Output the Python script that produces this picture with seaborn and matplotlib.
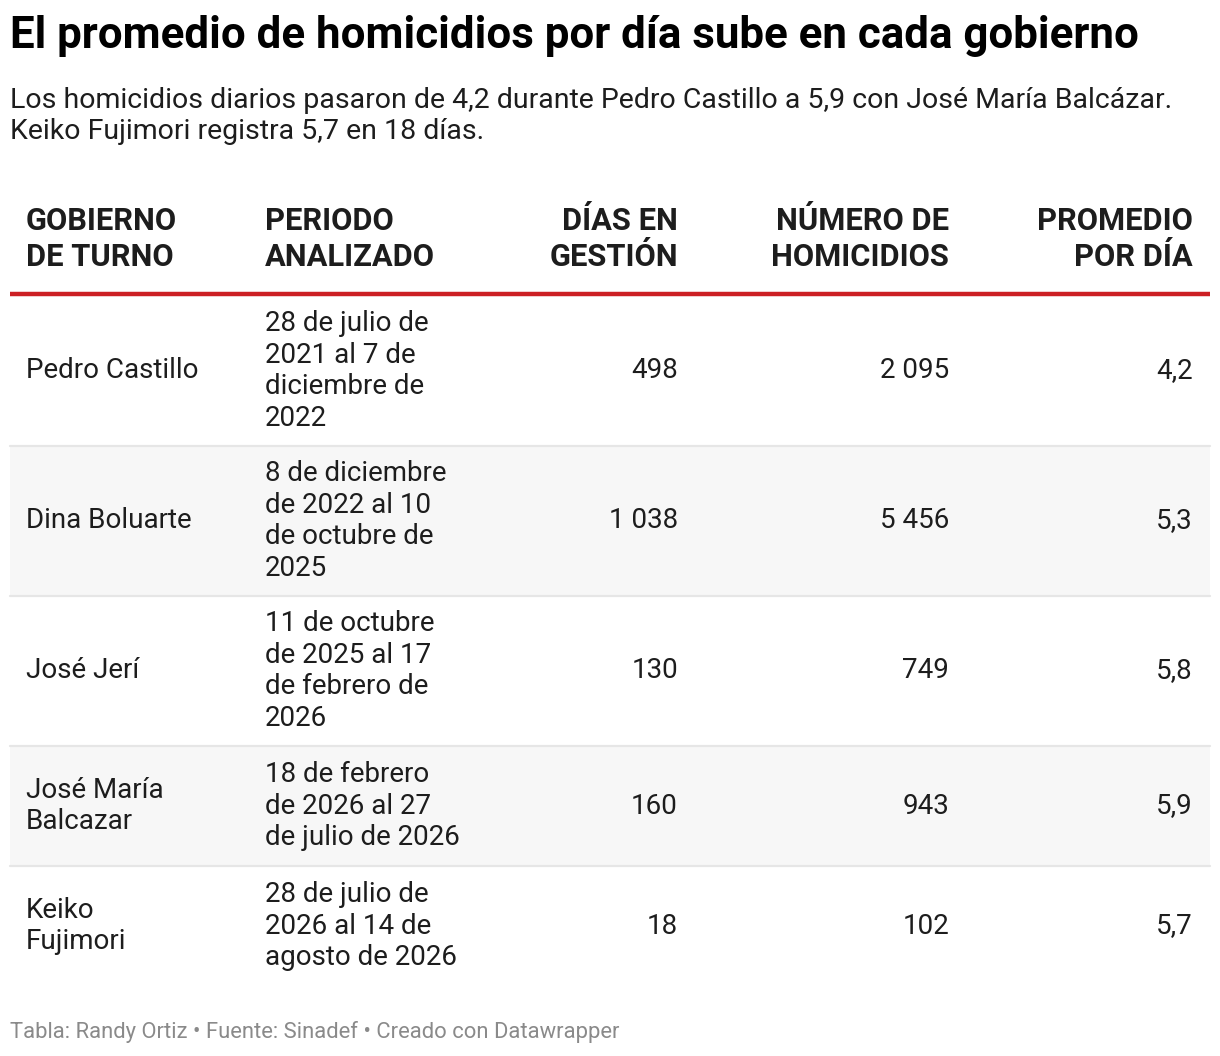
import matplotlib
matplotlib.use("Agg")
import matplotlib.pyplot as plt
import seaborn as sns

# table content
headers = ["GOBIERNO\nDE TURNO", "PERIODO\nANALIZADO", "DÍAS EN\nGESTIÓN",
           "NÚMERO DE\nHOMICIDIOS", "PROMEDIO\nPOR DÍA"]
gobiernos = ["Pedro Castillo", "Dina Boluarte", "José Jerí",
             "José María\nBalcazar", "Keiko\nFujimori"]
periodos = ["28 de julio de\n2021 al 7 de\ndiciembre de\n2022",
            "8 de diciembre\nde 2022 al 10\nde octubre de\n2025",
            "11 de octubre\nde 2025 al 17\nde febrero de\n2026",
            "18 de febrero\nde 2026 al 27\nde julio de 2026",
            "28 de julio de\n2026 al 14 de\nagosto de 2026"]
dias = [498, 1038, 130, 160, 18]
homicidios = [2095, 5456, 749, 943, 102]
promedio = [4.2, 5.3, 5.8, 5.9, 5.7]

title = "El promedio de homicidios por día sube en cada gobierno"
subtitle = ("Los homicidios diarios pasaron de 4,2 durante Pedro Castillo a 5,9 con José María Balcázar.\n"
            "Keiko Fujimori registra 5,7 en 18 días.")
footer = "Tabla: Randy Ortiz • Fuente: Sinadef • Creado con Datawrapper"


def fmt_int(v):
    return f"{v:,}".replace(",", " ")


def fmt_dec(v):
    return f"{v:.1f}".replace(".", ",")


sns.set_theme(style="white")
plt.rcParams["font.family"] = ["Roboto", "DejaVu Sans"]

W, H = 1220, 1056
fig = plt.figure(figsize=(W / 100, H / 100), dpi=100)
ax = fig.add_axes([0, 0, 1, 1])
ax.set_xlim(0, W)
ax.set_ylim(H, 0)
ax.axis("off")

dark = "#1d1d1d"
ax.text(10, 36, title, fontsize=31.6, fontweight="bold", color="#000000", va="center", ha="left")
ax.text(10, 116, subtitle, fontsize=20.5, color=dark, va="center", ha="left", linespacing=1.18)

# column anchors: (x, alignment)
cols = [(26, "left"), (265, "left"), (678, "right"), (949, "right"), (1193, "right")]

for (x, ha), h in zip(cols, headers):
    ax.text(x, 239, h, fontsize=22.2, fontweight="bold", color=dark, ha=ha, va="center",
            linespacing=1.28)

ax.plot([10, 1210], [294, 294], color="#cc1f24", lw=3.2, solid_capstyle="butt")

# row geometry depends on number of lines in the period column
top = 296
for i in range(len(gobiernos)):
    n_lines = periodos[i].count("\n") + 1
    hgt = 150 if n_lines == 4 else 120
    bottom = top + hgt
    if i % 2 == 1:
        ax.fill_between([10, 1210], top, bottom, color="#f7f7f7", lw=0)
    if i < len(gobiernos) - 1:
        ax.plot([10, 1210], [bottom, bottom], color="#e6e6e6", lw=1.6)
    yc = (top + bottom) / 2
    vals = [gobiernos[i], periodos[i], fmt_int(dias[i]), fmt_int(homicidios[i]), fmt_dec(promedio[i])]
    for (x, ha), v in zip(cols, vals):
        ax.text(x, yc, v, fontsize=20, color=dark, ha=ha, va="center", linespacing=1.22)
    top = bottom

ax.text(10, 1032, footer, fontsize=15.8, color="#8a8a8a", ha="left", va="center")

fig.savefig("out.png", dpi=100, facecolor="white")
